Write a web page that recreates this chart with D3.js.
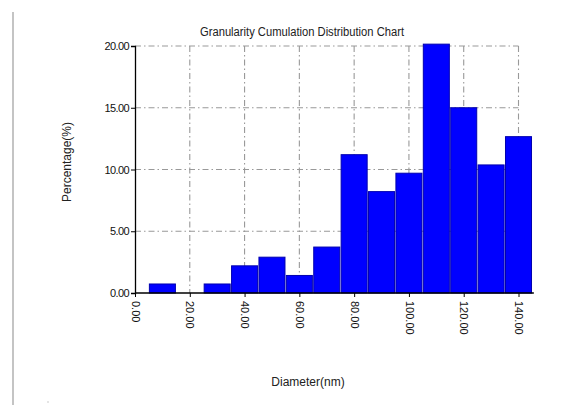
<!DOCTYPE html>
<html>
<head>
<meta charset="utf-8">
<script src="https://cdn.jsdelivr.net/npm/d3@7"></script>
<style>
  html, body { margin: 0; padding: 0; background: #fff; }
  svg { display: block; font-family: "Liberation Sans", Arial, sans-serif; }
</style>
</head>
<body>
<svg id="chart" width="565" height="405"></svg>
<script>
// Particle size classes (nm, bin centres) and their share of the sample (%)
const diameters = [10, 20, 30, 40, 50, 60, 70, 80, 90, 100, 110, 120, 130, 140];
const percentages = [0.73, 0, 0.73, 2.2, 2.9, 1.42, 3.72, 11.2, 8.21, 9.7, 20.15, 15.0, 10.37, 12.66];
const xTicks = [0, 20, 40, 60, 80, 100, 120, 140];
const yTicks = [0, 5, 10, 15, 20];
const binWidth = 9.5;

const svg = d3.select("#chart");
const margin = { left: 135, top: 46 };

const x = d3.scaleLinear().domain([0, 140]).range([margin.left, 518.5]);
const y = d3.scaleLinear().domain([0, 20]).range([293, margin.top]);

// page edge line on the left
svg.append("line")
  .attr("x1", 13).attr("x2", 13).attr("y1", 12).attr("y2", 405)
  .attr("stroke", "#b0b0b0").attr("stroke-width", 1.5);
svg.append("rect").attr("x", 47.5).attr("y", 401.5).attr("width", 1).attr("height", 1).attr("fill", "#999");

// dash-dot grid
const dash = "6,3,1.5,3";
const grid = svg.append("g").attr("stroke", "#999").attr("stroke-width", 1.1).attr("fill", "none");
grid.selectAll("line.h").data(yTicks.filter(d => d > 0)).join("line")
  .attr("class", "h")
  .attr("x1", x(0)).attr("x2", x(140))
  .attr("y1", d => y(d)).attr("y2", d => y(d))
  .attr("stroke-dasharray", dash);
grid.selectAll("line.v").data(xTicks.filter(d => d > 0)).join("line")
  .attr("class", "v")
  .attr("x1", d => x(d)).attr("x2", d => x(d))
  .attr("y1", y(20)).attr("y2", y(0))
  .attr("stroke-dasharray", dash);

// histogram bars
svg.append("g").selectAll("rect").data(diameters).join("rect")
  .attr("x", (d) => x(d - binWidth / 2))
  .attr("width", (d) => x(d + binWidth / 2) - x(d - binWidth / 2))
  .attr("y", (d, i) => y(percentages[i]))
  .attr("height", (d, i) => y(0) - y(percentages[i]))
  .attr("fill", "#0000ff")
  .attr("stroke", "#0000b0")
  .attr("stroke-width", 1);

// y axis
const yAxis = d3.axisLeft(y).tickValues(yTicks).tickFormat(d3.format(".2f")).tickSize(4).tickPadding(2);
const gy = svg.append("g").attr("transform", `translate(${x(0)},0)`).call(yAxis);
gy.select(".domain").attr("stroke", "#000").attr("stroke-width", 1.3);
gy.selectAll(".tick line").attr("stroke", "#000");
gy.selectAll(".tick text").attr("font-size", 11).attr("fill", "#111")
  .attr("font-family", "'Liberation Sans Narrow', 'Liberation Sans', Arial, sans-serif")
  .attr("letter-spacing", -0.6);

// x axis
const xAxis = d3.axisBottom(x).tickValues(xTicks).tickFormat(d3.format(".2f")).tickSize(4).tickSizeOuter(0);
const gx = svg.append("g").attr("transform", `translate(0,${y(0)})`).call(xAxis);
gx.select(".domain").attr("stroke", "#000").attr("stroke-width", 1.3)
  .attr("d", `M${x(0)},0H${x(145.6)}`);
gx.selectAll(".tick line").attr("stroke", "#000");
gx.selectAll(".tick text")
  .attr("font-size", 11).attr("fill", "#111")
  .attr("font-family", "'Liberation Sans Narrow', 'Liberation Sans', Arial, sans-serif")
  .attr("text-anchor", "start")
  .attr("dy", "0.35em")
  .attr("transform", "translate(0,8) rotate(90)")
  .attr("x", 0).attr("y", 0);

// title and axis titles
svg.append("text")
  .attr("x", 302).attr("y", 36)
  .attr("text-anchor", "middle")
  .attr("font-size", 12.5).attr("fill", "#222")
  .attr("font-family", "'Liberation Sans Narrow', 'Liberation Sans', Arial, sans-serif")
  .attr("textLength", 204).attr("lengthAdjust", "spacingAndGlyphs")
  .text("Granularity Cumulation Distribution  Chart");

svg.append("text")
  .attr("transform", "translate(71,162) rotate(-90)")
  .attr("text-anchor", "middle")
  .attr("font-size", 12).attr("fill", "#222")
  .text("Percentage(%)");

svg.append("text")
  .attr("x", 308).attr("y", 386)
  .attr("text-anchor", "middle")
  .attr("font-size", 12).attr("fill", "#222")
  .text("Diameter(nm)");
</script>
</body>
</html>
